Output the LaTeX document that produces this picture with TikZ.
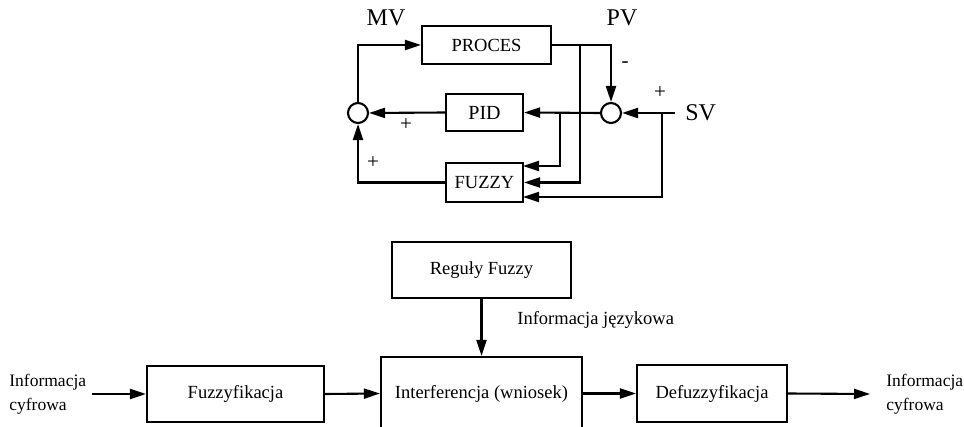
\documentclass[tikz,border=0pt]{standalone}
\usepackage{fontspec}
\setmainfont{Liberation Serif}
\usetikzlibrary{arrows.meta}
\begin{document}
\begin{tikzpicture}[x=1pt,y=-1pt, line width=2.1pt,
  box/.style={draw, rectangle, inner sep=0pt, line width=2.1pt},
  sumc/.style={draw, circle, minimum size=20pt, inner sep=0pt},
  arr/.style={-{Triangle[length=16pt,width=10pt]}},
  lbl/.style={font=\fontsize{18.5}{24}\selectfont},
  side/.style={font=\fontsize{17.5}{24}\selectfont},
  big/.style={font=\fontsize{24}{28}\selectfont},
  sgn/.style={font=\fontsize{21}{24}\selectfont}]
\useasboundingbox (0,0) rectangle (964,427);
% top diagram
\node[box, minimum width=129pt, minimum height=38pt, lbl] (proc) at (486.5,45) {PROCES};
\node[box, minimum width=77pt, minimum height=37pt, font=\fontsize{20}{24}\selectfont] (pid) at (484.5,112.5) {PID};
\node[box, minimum width=77pt, minimum height=39pt, lbl] (fuz) at (484.5,182.5) {FUZZY};
\node[sumc] (cl) at (358,113) {};
\node[sumc] (cr) at (611,113) {};
\node[big] (mv) at (386,18) {MV};
\node[big] (pv) at (622,18) {PV};
\node[big, anchor=west] (sv) at (681,113) {SV};
\node[sgn] (m1) at (625,65) {-};
\node[sgn] (p1) at (660,93) {+};
\node[sgn] (p2) at (406,125) {+};
\node[sgn] (p3) at (373,163) {+};
\coordinate (svin) at (675,113);
\coordinate (j1) at (580,45);
\coordinate (j2) at (662,113);
\coordinate (j3) at (560,113);
\coordinate (f1) at (523,166);
\coordinate (f3) at (523,197);
\draw[arr] (proc.east) -| (cr.north);
\draw[arr] (j1) |- (fuz.east);
\draw[arr] (svin) -- (cr.east);
\draw[arr] (j2) |- (f3);
\draw[arr] (cr.west) -- (pid.east);
\draw[arr] (j3) |- (f1);
\draw[arr] (pid.west) -- (cl.east);
\draw[arr] (fuz.west) -| (cl.south);
\draw[arr] (cl.north) |- (proc.west);
% bottom diagram
\node[box, minimum width=179pt, minimum height=56pt, lbl] (reg) at (481.5,270) {Reguły Fuzzy};
\node[box, minimum width=177pt, minimum height=56pt, lbl] (fz) at (235.5,394) {Fuzzyfikacja};
\node[box, minimum width=201pt, minimum height=73pt, lbl] (inf) at (481.5,393.5) {Interferencja (wniosek)};
\node[box, minimum width=150pt, minimum height=57pt, lbl] (dfz) at (712,393.5) {Defuzzyfikacja};
\node[side, align=left, anchor=west] (in) at (5,394) {Informacja\\cyfrowa};
\node[side, align=left, anchor=west] (out) at (882,394) {Informacja\\cyfrowa};
\node[lbl, anchor=west] (ij) at (513,320) {Informacja językowa};
\coordinate (inpt) at (92,394);
\coordinate (outpt) at (870,394);
\draw[arr] (inpt) -- (fz.west);
\draw[arr] (fz.east) -- (inf.west);
\draw[arr] (inf.east) -- (dfz.west);
\draw[arr] (dfz.east) -- (outpt);
\draw[arr] (reg.south) -- (inf.north);
\end{tikzpicture}
\end{document}
